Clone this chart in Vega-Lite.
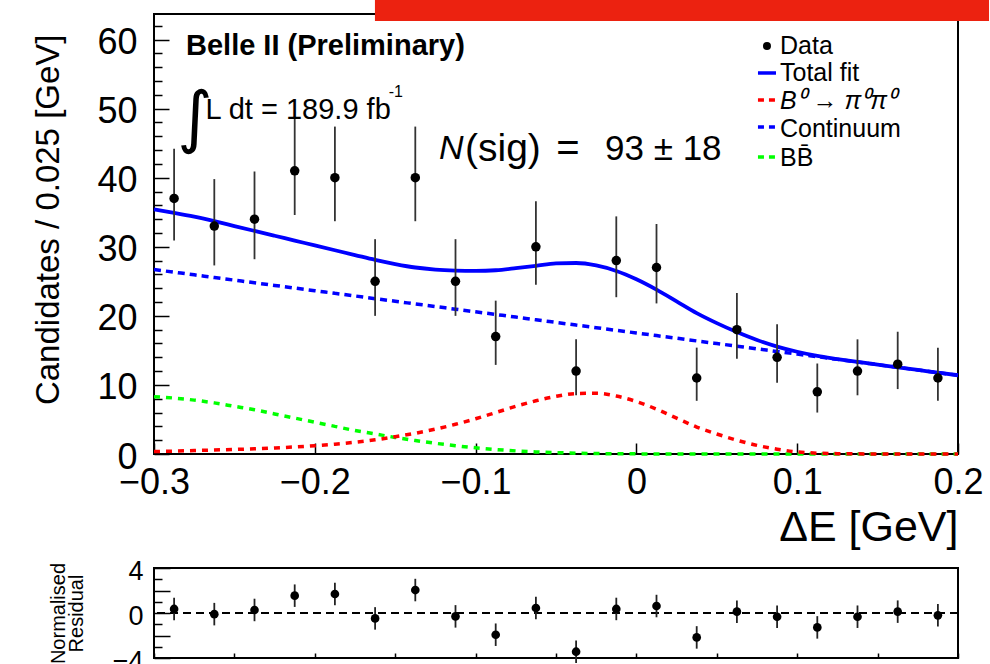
{
  "$schema": "https://vega.github.io/schema/vega-lite/v6.json",
  "padding": {"left": 30, "top": -2, "right": 0, "bottom": 0},
  "background": "white",
  "spacing": 6,
  "resolve": {"scale": {"x": "independent", "y": "independent"}},
  "config": {
    "font": "Liberation Sans",
    "view": {"stroke": "black", "strokeWidth": 2},
    "axis": {"domain": false, "grid": false, "tickColor": "black", "tickWidth": 1.5, "labelColor": "black", "titleColor": "black", "labelFont": "Liberation Sans", "titleFont": "Liberation Sans", "titleFontWeight": "normal", "labelFlush": false, "labelOverlap": false, "labelBound": false}
  },
  "datasets": {
    "bins": [
      {"x": -0.2875, "n": 37, "lo": 30.9, "hi": 44.2, "res": 0.36, "rlo": -0.64, "rhi": 1.36},
      {"x": -0.2625, "n": 33, "lo": 27.3, "hi": 39.8, "res": -0.1, "rlo": -1.1, "rhi": 0.9},
      {"x": -0.2375, "n": 34, "lo": 28.2, "hi": 40.9, "res": 0.27, "rlo": -0.73, "rhi": 1.27},
      {"x": -0.2125, "n": 41, "lo": 34.6, "hi": 48.5, "res": 1.54, "rlo": 0.54, "rhi": 2.54},
      {"x": -0.1875, "n": 40, "lo": 33.7, "hi": 47.4, "res": 1.69, "rlo": 0.69, "rhi": 2.69},
      {"x": -0.1625, "n": 25, "lo": 20.0, "hi": 31.1, "res": -0.48, "rlo": -1.48, "rhi": 0.52},
      {"x": -0.1375, "n": 40, "lo": 33.7, "hi": 47.4, "res": 2.04, "rlo": 1.04, "rhi": 3.04},
      {"x": -0.1125, "n": 25, "lo": 20.0, "hi": 31.1, "res": -0.3, "rlo": -1.3, "rhi": 0.7},
      {"x": -0.0875, "n": 17, "lo": 12.9, "hi": 22.2, "res": -1.93, "rlo": -2.93, "rhi": -0.93},
      {"x": -0.0625, "n": 30, "lo": 24.5, "hi": 36.6, "res": 0.44, "rlo": -0.56, "rhi": 1.44},
      {"x": -0.0375, "n": 12, "lo": 8.5, "hi": 16.6, "res": -3.44, "rlo": -4.44, "rhi": -2.44},
      {"x": -0.0125, "n": 28, "lo": 22.7, "hi": 34.4, "res": 0.36, "rlo": -0.64, "rhi": 1.36},
      {"x": 0.0125, "n": 27, "lo": 21.8, "hi": 33.3, "res": 0.62, "rlo": -0.38, "rhi": 1.62},
      {"x": 0.0375, "n": 11, "lo": 7.7, "hi": 15.4, "res": -2.17, "rlo": -3.17, "rhi": -1.17},
      {"x": 0.0625, "n": 18, "lo": 13.8, "hi": 23.3, "res": 0.12, "rlo": -0.88, "rhi": 1.12},
      {"x": 0.0875, "n": 14, "lo": 10.3, "hi": 18.8, "res": -0.33, "rlo": -1.33, "rhi": 0.67},
      {"x": 0.1125, "n": 9, "lo": 6.0, "hi": 13.1, "res": -1.28, "rlo": -2.28, "rhi": -0.28},
      {"x": 0.1375, "n": 12, "lo": 8.5, "hi": 16.6, "res": -0.33, "rlo": -1.33, "rhi": 0.67},
      {"x": 0.1625, "n": 13, "lo": 9.4, "hi": 17.7, "res": 0.12, "rlo": -0.88, "rhi": 1.12},
      {"x": 0.1875, "n": 11, "lo": 7.7, "hi": 15.4, "res": -0.21, "rlo": -1.21, "rhi": 0.79}
    ],
    "curves": [
      {"x": -0.3, "total": 35.4, "sig": 0.35, "cont": 26.70, "bb": 8.3},
      {"x": -0.2875, "total": 34.9, "sig": 0.42, "cont": 26.32, "bb": 8.1},
      {"x": -0.275, "total": 34.35, "sig": 0.5, "cont": 25.94, "bb": 7.8},
      {"x": -0.2625, "total": 33.7, "sig": 0.58, "cont": 25.55, "bb": 7.4},
      {"x": -0.25, "total": 33.0, "sig": 0.66, "cont": 25.17, "bb": 6.9},
      {"x": -0.2375, "total": 32.3, "sig": 0.76, "cont": 24.79, "bb": 6.4},
      {"x": -0.225, "total": 31.6, "sig": 0.88, "cont": 24.41, "bb": 5.8},
      {"x": -0.2125, "total": 30.9, "sig": 1.02, "cont": 24.02, "bb": 5.2},
      {"x": -0.2, "total": 30.2, "sig": 1.2, "cont": 23.64, "bb": 4.6},
      {"x": -0.1875, "total": 29.5, "sig": 1.42, "cont": 23.26, "bb": 4.0},
      {"x": -0.175, "total": 28.8, "sig": 1.7, "cont": 22.88, "bb": 3.4},
      {"x": -0.1625, "total": 28.1, "sig": 2.05, "cont": 22.49, "bb": 2.9},
      {"x": -0.15, "total": 27.5, "sig": 2.5, "cont": 22.11, "bb": 2.4},
      {"x": -0.1375, "total": 27.0, "sig": 3.0, "cont": 21.73, "bb": 1.95},
      {"x": -0.125, "total": 26.7, "sig": 3.6, "cont": 21.35, "bb": 1.55},
      {"x": -0.1125, "total": 26.55, "sig": 4.3, "cont": 20.96, "bb": 1.2},
      {"x": -0.1, "total": 26.5, "sig": 5.1, "cont": 20.58, "bb": 0.9},
      {"x": -0.0875, "total": 26.6, "sig": 6.0, "cont": 20.20, "bb": 0.65},
      {"x": -0.075, "total": 26.9, "sig": 6.9, "cont": 19.82, "bb": 0.45},
      {"x": -0.0625, "total": 27.25, "sig": 7.7, "cont": 19.43, "bb": 0.3},
      {"x": -0.05, "total": 27.6, "sig": 8.35, "cont": 19.05, "bb": 0.2},
      {"x": -0.0375, "total": 27.65, "sig": 8.75, "cont": 18.67, "bb": 0.12},
      {"x": -0.025, "total": 27.3, "sig": 8.8, "cont": 18.29, "bb": 0.07},
      {"x": -0.0125, "total": 26.5, "sig": 8.4, "cont": 17.90, "bb": 0.04},
      {"x": 0.0, "total": 25.3, "sig": 7.6, "cont": 17.52, "bb": 0.02},
      {"x": 0.0125, "total": 23.8, "sig": 6.5, "cont": 17.14, "bb": 0.01},
      {"x": 0.025, "total": 22.1, "sig": 5.2, "cont": 16.76, "bb": 0.0},
      {"x": 0.0375, "total": 20.4, "sig": 3.9, "cont": 16.37, "bb": 0.0},
      {"x": 0.05, "total": 18.95, "sig": 2.9, "cont": 15.99, "bb": 0.0},
      {"x": 0.0625, "total": 17.65, "sig": 2.0, "cont": 15.61, "bb": 0.0},
      {"x": 0.075, "total": 16.5, "sig": 1.25, "cont": 15.23, "bb": 0.0},
      {"x": 0.0875, "total": 15.55, "sig": 0.7, "cont": 14.84, "bb": 0.0},
      {"x": 0.1, "total": 14.8, "sig": 0.3, "cont": 14.46, "bb": 0.0},
      {"x": 0.1125, "total": 14.2, "sig": 0.12, "cont": 14.08, "bb": 0.0},
      {"x": 0.125, "total": 13.75, "sig": 0.05, "cont": 13.70, "bb": 0.0},
      {"x": 0.1375, "total": 13.33, "sig": 0.02, "cont": 13.31, "bb": 0.0},
      {"x": 0.15, "total": 12.94, "sig": 0.01, "cont": 12.93, "bb": 0.0},
      {"x": 0.1625, "total": 12.55, "sig": 0.0, "cont": 12.55, "bb": 0.0},
      {"x": 0.175, "total": 12.17, "sig": 0.0, "cont": 12.17, "bb": 0.0},
      {"x": 0.1875, "total": 11.78, "sig": 0.0, "cont": 11.78, "bb": 0.0},
      {"x": 0.2, "total": 11.4, "sig": 0.0, "cont": 11.40, "bb": 0.0}
    ]
  },
  "vconcat": [
    {
      "width": 804,
      "height": 440,
      "resolve": {"axis": {"y": "independent"}},
      "layer": [
        {
          "data": {"name": "curves"},
          "mark": {"type": "line", "color": "#00ff00", "strokeWidth": 3.5, "strokeDash": [6, 6], "interpolate": "monotone"},
          "encoding": {
            "x": {"field": "x", "type": "quantitative", "scale": {"domain": [-0.3, 0.2], "nice": false, "zero": false},
              "axis": {"values": [-0.3, -0.2, -0.1, 0, 0.1, 0.2], "tickSize": -11, "labelFontSize": 36, "labelPadding": 22, "labelExpr": "datum.value == 0 ? '0' : replace(format(datum.value, '.1f'), '-', '\u2212')", "title": "ΔE [GeV]", "titleFontSize": 43, "titleAnchor": "end", "titlePadding": 6}},
            "y": {"field": "bb", "type": "quantitative", "scale": {"domain": [0, 63.7], "nice": false, "zero": false}, "axis": null}
          }
        },
        {
          "data": {"name": "curves"},
          "mark": {"type": "line", "color": "#ff0000", "strokeWidth": 3.5, "strokeDash": [6, 6], "interpolate": "monotone"},
          "encoding": {
            "x": {"field": "x", "type": "quantitative"},
            "y": {"field": "sig", "type": "quantitative", "axis": null}
          }
        },
        {
          "data": {"name": "curves"},
          "mark": {"type": "line", "color": "#0000ff", "strokeWidth": 3.5, "strokeDash": [7, 5], "interpolate": "monotone"},
          "encoding": {
            "x": {"field": "x", "type": "quantitative"},
            "y": {"field": "cont", "type": "quantitative",
              "axis": {"orient": "left", "values": [2, 4, 6, 8, 12, 14, 16, 18, 22, 24, 26, 28, 32, 34, 36, 38, 42, 44, 46, 48, 52, 54, 56, 58, 62], "tickSize": -8, "labels": false, "title": null}}
          }
        },
        {
          "data": {"name": "curves"},
          "mark": {"type": "line", "color": "#0000ff", "strokeWidth": 3.8, "interpolate": "monotone"},
          "encoding": {
            "x": {"field": "x", "type": "quantitative"},
            "y": {"field": "total", "type": "quantitative",
              "axis": {"orient": "left", "values": [0, 10, 20, 30, 40, 50, 60], "tickSize": -15, "labelFontSize": 36, "labelPadding": 32, "labelOffset": 3, "title": "Candidates / 0.025 [GeV]", "titleFontSize": 33, "titleAnchor": "end", "titleAlign": "right", "titleAngle": -90, "titleBaseline": "middle", "titleX": -106, "titleY": 20}}
          }
        },
        {
          "data": {"name": "bins"},
          "mark": {"type": "rule", "color": "#333333", "strokeWidth": 1.8},
          "encoding": {
            "x": {"field": "x", "type": "quantitative"},
            "y": {"field": "lo", "type": "quantitative", "axis": null},
            "y2": {"field": "hi"}
          }
        },
        {
          "data": {"name": "bins"},
          "mark": {"type": "circle", "color": "black", "opacity": 1, "size": 90},
          "encoding": {
            "x": {"field": "x", "type": "quantitative"},
            "y": {"field": "n", "type": "quantitative", "axis": null}
          }
        },
        {
          "data": {"values": [{}]},
          "mark": {"type": "rect", "color": "#ec2210", "clip": false},
          "encoding": {
            "x": {"datum": -0.1626, "type": "quantitative"},
            "x2": {"datum": 0.2193},
            "y": {"datum": 62.69, "type": "quantitative", "axis": null},
            "y2": {"datum": 65.73}
          }
        },
        {
          "data": {"values": [{}]},
          "mark": {"type": "text", "text": "Belle II (Preliminary)", "font": "Liberation Sans", "fontWeight": "bold", "fontSize": 29, "align": "left", "baseline": "middle", "color": "black"},
          "encoding": {
            "x": {"datum": -0.2801, "type": "quantitative"},
            "y": {"datum": 59.07, "type": "quantitative", "axis": null}
          }
        },
        {
          "data": {"values": [{}]},
          "mark": {"type": "text", "text": "∫", "font": "DejaVu Sans", "fontSize": 68, "align": "center", "baseline": "middle", "color": "black"},
          "encoding": {
            "x": {"datum": -0.2745, "type": "quantitative"},
            "y": {"datum": 48.4, "type": "quantitative", "axis": null}
          }
        },
        {
          "data": {"values": [{}]},
          "mark": {"type": "text", "text": "L dt = 189.9 fb", "font": "Liberation Sans", "fontSize": 29, "align": "left", "baseline": "middle", "color": "black"},
          "encoding": {
            "x": {"datum": -0.2679, "type": "quantitative"},
            "y": {"datum": 49.8, "type": "quantitative", "axis": null}
          }
        },
        {
          "data": {"values": [{}]},
          "mark": {"type": "text", "text": "-1", "font": "Liberation Sans", "fontSize": 16, "align": "left", "baseline": "middle", "color": "black"},
          "encoding": {
            "x": {"datum": -0.154, "type": "quantitative"},
            "y": {"datum": 52.4, "type": "quantitative", "axis": null}
          }
        },
        {
          "data": {"values": [{}]},
          "mark": {"type": "text", "text": "N", "font": "Liberation Sans", "fontStyle": "italic", "fontSize": 34, "align": "left", "baseline": "middle", "color": "black"},
          "encoding": {
            "x": {"datum": -0.1227, "type": "quantitative"},
            "y": {"datum": 44.16, "type": "quantitative", "axis": null}
          }
        },
        {
          "data": {"values": [{}]},
          "mark": {"type": "text", "text": "(sig)", "font": "Liberation Sans", "fontSize": 39, "align": "left", "baseline": "middle", "color": "black"},
          "encoding": {
            "x": {"datum": -0.1066, "type": "quantitative"},
            "y": {"datum": 44.16, "type": "quantitative", "axis": null}
          }
        },
        {
          "data": {"values": [{}]},
          "mark": {"type": "text", "text": "=", "font": "Liberation Sans", "fontSize": 40, "align": "left", "baseline": "middle", "color": "black"},
          "encoding": {
            "x": {"datum": -0.0498, "type": "quantitative"},
            "y": {"datum": 44.16, "type": "quantitative", "axis": null}
          }
        },
        {
          "data": {"values": [{}]},
          "mark": {"type": "text", "text": "93 ± 18", "font": "Liberation Sans", "fontSize": 35, "align": "left", "baseline": "middle", "color": "black"},
          "encoding": {
            "x": {"datum": -0.0195, "type": "quantitative"},
            "y": {"datum": 44.16, "type": "quantitative", "axis": null}
          }
        },
        {
          "data": {"values": [{}]},
          "mark": {"type": "circle", "color": "black", "opacity": 1, "size": 64},
          "encoding": {
            "x": {"datum": 0.0812, "type": "quantitative"},
            "y": {"datum": 59.07, "type": "quantitative", "axis": null}
          }
        },
        {
          "data": {"values": [{}]},
          "mark": {"type": "rule", "color": "#0000ff", "strokeWidth": 3.5},
          "encoding": {
            "x": {"datum": 0.0756, "type": "quantitative"},
            "x2": {"datum": 0.0868},
            "y": {"datum": 55.16, "type": "quantitative", "axis": null}
          }
        },
        {
          "data": {"values": [{}]},
          "mark": {"type": "rule", "color": "#ff0000", "strokeWidth": 3.5, "strokeDash": [6, 5]},
          "encoding": {
            "x": {"datum": 0.0756, "type": "quantitative"},
            "x2": {"datum": 0.0868},
            "y": {"datum": 51.25, "type": "quantitative", "axis": null}
          }
        },
        {
          "data": {"values": [{}]},
          "mark": {"type": "rule", "color": "#0000ff", "strokeWidth": 3.5, "strokeDash": [6, 5]},
          "encoding": {
            "x": {"datum": 0.0756, "type": "quantitative"},
            "x2": {"datum": 0.0868},
            "y": {"datum": 47.34, "type": "quantitative", "axis": null}
          }
        },
        {
          "data": {"values": [{}]},
          "mark": {"type": "rule", "color": "#00ff00", "strokeWidth": 3.5, "strokeDash": [6, 5]},
          "encoding": {
            "x": {"datum": 0.0756, "type": "quantitative"},
            "x2": {"datum": 0.0868},
            "y": {"datum": 43.0, "type": "quantitative", "axis": null}
          }
        },
        {
          "data": {"values": [{"label": "Data", "row": 59.01}, {"label": "Total fit", "row": 55.1}, {"label": "Continuum", "row": 47.05}, {"label": "BB̄", "row": 42.86}]},
          "mark": {"type": "text", "font": "Liberation Sans", "fontSize": 25, "align": "left", "baseline": "middle", "color": "black"},
          "encoding": {
            "x": {"datum": 0.0893, "type": "quantitative"},
            "y": {"field": "row", "type": "quantitative", "axis": null},
            "text": {"field": "label"}
          }
        },
        {
          "data": {"values": [{}]},
          "mark": {"type": "text", "text": "B⁰ → π⁰π⁰", "font": "Liberation Sans", "fontStyle": "italic", "fontSize": 25, "align": "left", "baseline": "middle", "color": "black"},
          "encoding": {
            "x": {"datum": 0.0893, "type": "quantitative"},
            "y": {"datum": 51.05, "type": "quantitative", "axis": null}
          }
        }
      ]
    },
    {
      "width": 804,
      "height": 90,
      "resolve": {"axis": {"y": "independent"}},
      "layer": [
        {
          "data": {"values": [{}]},
          "mark": {"type": "rule", "color": "black", "strokeWidth": 2, "strokeDash": [8, 5]},
          "encoding": {
            "y": {"datum": 0, "type": "quantitative", "scale": {"domain": [-4, 4], "nice": false, "zero": false},
              "axis": {"orient": "left", "values": [-4, -2, 0, 2, 4], "tickSize": -16, "labelExpr": "datum.value % 4 == 0 ? datum.label : ''", "labelFontSize": 27, "labelPadding": 27, "labelOffset": 3, "title": ["Normalised", "Residual"], "titleFontSize": 20, "titleLineHeight": 18, "titleX": -96, "titleBaseline": "middle", "titleAngle": -90, "titleAnchor": "middle"}}
          }
        },
        {
          "data": {"name": "bins"},
          "mark": {"type": "rule", "color": "#222222", "strokeWidth": 1.8},
          "encoding": {
            "x": {"field": "x", "type": "quantitative", "scale": {"domain": [-0.3, 0.2], "nice": false, "zero": false},
              "axis": {"values": [-0.3, -0.25, -0.2, -0.15, -0.1, -0.05, 0, 0.05, 0.1, 0.15, 0.2], "tickSize": -5, "labels": false, "title": null}},
            "y": {"field": "rlo", "type": "quantitative",
              "axis": {"orient": "left", "values": [-3, -1, 1, 3], "tickSize": -8, "labels": false, "title": null}},
            "y2": {"field": "rhi"}
          }
        },
        {
          "data": {"name": "bins"},
          "mark": {"type": "circle", "color": "black", "opacity": 1, "size": 75},
          "encoding": {
            "x": {"field": "x", "type": "quantitative"},
            "y": {"field": "res", "type": "quantitative", "axis": null}
          }
        }
      ]
    }
  ]
}
